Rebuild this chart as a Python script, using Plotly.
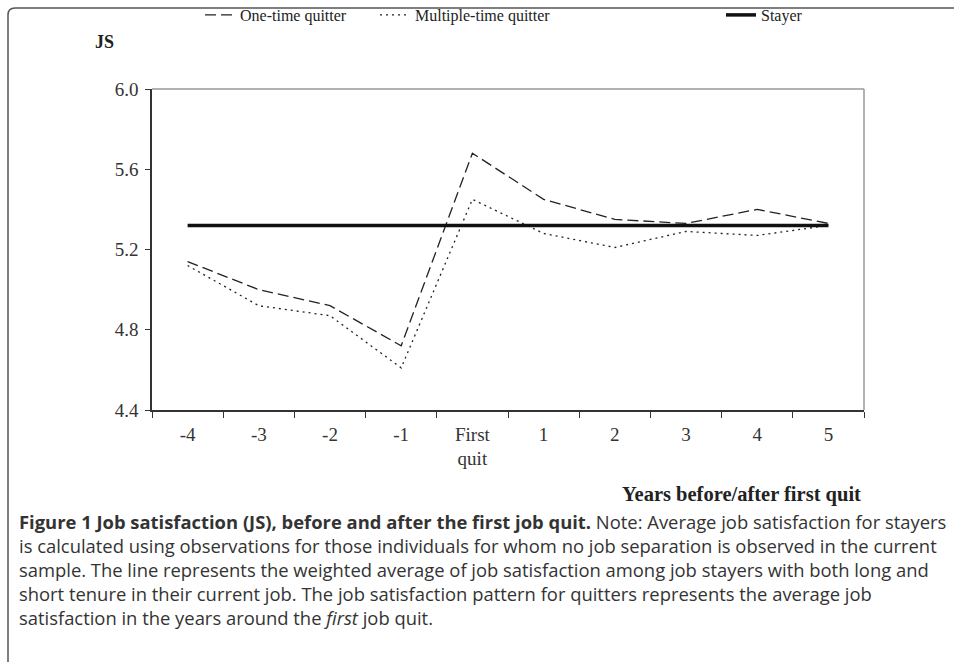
import plotly.graph_objects as go

categories = ["-4", "-3", "-2", "-1", "First<br>quit", "1", "2", "3", "4", "5"]
one_time = [5.14, 5.00, 4.92, 4.72, 5.68, 5.45, 5.35, 5.33, 5.40, 5.33]
multiple_time = [5.12, 4.92, 4.87, 4.61, 5.45, 5.28, 5.21, 5.29, 5.27, 5.32]
stayer = [5.32] * 10
y_ticks = [4.4, 4.8, 5.2, 5.6, 6.0]

W, H = 954, 662
L, R, T, B = 152, 864, 89, 410
pw, ph = R - L, B - T

def px(x):
    return (x - L) / pw

def py(y):
    return (B - y) / ph

serif = "Liberation Serif"

fig = go.Figure()
fig.add_trace(go.Scatter(x=categories, y=one_time, mode="lines", name="One-time quitter",
                         line=dict(color="#222", width=1.3, dash="11px,5px"), legend="legend"))
fig.add_trace(go.Scatter(x=categories, y=multiple_time, mode="lines", name="Multiple-time quitter",
                         line=dict(color="#222", width=1.3, dash="2px,4px"), legend="legend2"))
fig.add_trace(go.Scatter(x=categories, y=stayer, mode="lines", name="Stayer",
                         line=dict(color="#111", width=3.5), legend="legend3"))

leg_common = dict(orientation="h", yanchor="middle", xanchor="left", bgcolor="rgba(0,0,0,0)",
                  font=dict(family=serif, size=16, color="#222"), itemwidth=30)

shapes = [
    dict(type="line", xref="paper", yref="paper", x0=0, x1=1, y0=1, y1=1,
         line=dict(color="#999", width=1.5)),
    dict(type="line", xref="paper", yref="paper", x0=1, x1=1, y0=0, y1=1,
         line=dict(color="#999", width=1.5)),
    dict(type="path", xref="paper", yref="paper",
         path=f"M {px(8)},{py(700)} L {px(8)},{py(15)} Q {px(8)},{py(8)} {px(15)},{py(8)} L {px(1000)},{py(8)}",
         line=dict(color="#555", width=1.5)),
]

caption = ("<b>Figure 1 Job satisfaction (JS), before and after the first job quit.</b> Note: Average job satisfaction for stayers<br>"
           "is calculated using observations for those individuals for whom no job separation is observed in the current<br>"
           "sample. The line represents the weighted average of job satisfaction among job stayers with both long and<br>"
           "short tenure in their current job. The job satisfaction pattern for quitters represents the average job<br>"
           "satisfaction in the years around the <i>first</i> job quit.")

annotations = [
    dict(text="<b>JS</b>", xref="paper", yref="paper", x=px(104), y=py(42), xanchor="center",
         yanchor="middle", showarrow=False, font=dict(family=serif, size=18, color="#222")),
    dict(text="<b>Years before/after first quit</b>", xref="paper", yref="paper", x=px(863), y=py(494),
         xanchor="right", yanchor="middle", showarrow=False, font=dict(family=serif, size=20.5, color="#222")),
    dict(text=caption, xref="paper", yref="paper", x=px(17), y=py(507), xanchor="left", yanchor="top",
         align="left", showarrow=False, font=dict(family="Open Sans", size=18.4, color="#333")),
]

fig.update_layout(
    width=W, height=H,
    margin=dict(l=L, r=W - R, t=T, b=H - B, autoexpand=False),
    paper_bgcolor="white", plot_bgcolor="white",
    showlegend=True,
    legend=dict(x=px(200), y=py(15), **leg_common),
    legend2=dict(x=px(375), y=py(15), **leg_common),
    legend3=dict(x=px(721), y=py(15), **leg_common),
    shapes=shapes,
    annotations=annotations,
)
fig.update_xaxes(type="category", categoryorder="array", categoryarray=categories,
                 tickson="boundaries", ticks="outside", ticklen=6, tickcolor="#333",
                 showline=True, linecolor="#333", linewidth=1.5, showgrid=False, zeroline=False,
                 ticklabelstandoff=6,
                 tickfont=dict(family=serif, size=19, color="#333"), range=[-0.5, 9.5])
fig.update_yaxes(range=[4.4, 6.0], tickvals=y_ticks, tickformat=".1f", ticks="outside", ticklen=5,
                 tickcolor="#333", showline=True, linecolor="#333", linewidth=1.5, showgrid=False,
                 ticklabelstandoff=3,
                 zeroline=False, tickfont=dict(family=serif, size=19, color="#333"))

fig.write_html("out.html", config={"displayModeBar": False},
               post_script="document.body.style.margin='0';document.body.style.overflow='hidden';")
